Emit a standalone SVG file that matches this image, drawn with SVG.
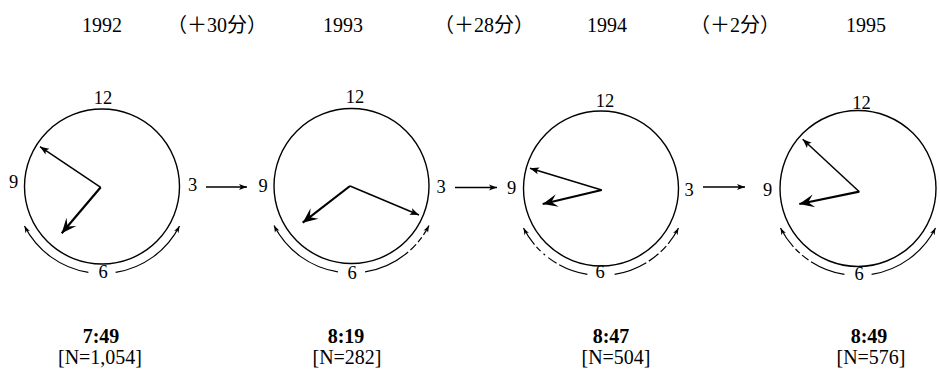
<svg xmlns="http://www.w3.org/2000/svg" width="940" height="382" viewBox="0 0 940 382">
  <style>
    .face { fill: none; stroke: #000; stroke-width: 1.4; }
    .minute { stroke: #000; stroke-width: 1.5; fill: none; marker-end: url(#tipSmall); }
    .hour { stroke: #000; stroke-width: 2.2; fill: none; marker-end: url(#tipLarge); }
    .sweep { fill: none; stroke: #000; stroke-width: 1.2; marker-end: url(#tipArc); }
    .link { stroke: #000; stroke-width: 1.4; fill: none; marker-end: url(#tipLink); }
    .num { font-family: "Liberation Serif", "Times New Roman", serif; font-size: 18.5px; text-anchor: middle; fill: #000; }
    .year { font-family: "Liberation Serif", "Times New Roman", serif; font-size: 20px; text-anchor: middle; fill: #000; }
    .gain { font-family: "Liberation Serif", "Noto Sans CJK SC", serif; font-size: 20px; text-anchor: middle; fill: #000; }
    .time { font-family: "Liberation Serif", "Times New Roman", serif; font-size: 20px; font-weight: bold; text-anchor: middle; fill: #000; }
    .count { font-family: "Liberation Serif", "Times New Roman", serif; font-size: 20px; text-anchor: middle; fill: #000; }
  </style>
  <defs>
    <marker id="tipSmall" viewBox="-10 -5 12 10" refX="0" refY="0" markerWidth="12" markerHeight="10" markerUnits="userSpaceOnUse" orient="auto">
      <path d="M0,0 L-9,-3.5 L-7,0 L-9,3.5 Z" fill="#000"/>
    </marker>
    <marker id="tipLarge" viewBox="-16 -8 18 16" refX="0" refY="0" markerWidth="18" markerHeight="16" markerUnits="userSpaceOnUse" orient="auto">
      <path d="M0,0 L-15,-6.5 L-9,0 L-15,6.5 Z" fill="#000"/>
    </marker>
    <marker id="tipArc" viewBox="-8 -4 10 8" refX="0" refY="0" markerWidth="10" markerHeight="8" markerUnits="userSpaceOnUse" orient="auto">
      <path d="M0,0 L-7,-2.5 L-5,0 L-7,2.5 Z" fill="#000"/>
    </marker>
    <marker id="tipLink" viewBox="-9 -4 11 8" refX="0" refY="0" markerWidth="11" markerHeight="8" markerUnits="userSpaceOnUse" orient="auto">
      <path d="M0,0 L-8,-3 L-6,0 L-8,3 Z" fill="#000"/>
    </marker>
  </defs>

  <!-- clock for 1992 -->
  <g id="clock-1992">
    <text class="year" x="102" y="32">1992</text>
    <g transform="translate(102,186.5)">
      <circle class="face" r="77.5"/>
      <text class="num" x="1" y="-82.5">12</text>
      <text class="num" x="-88.5" y="1">9</text>
      <text class="num" x="90.5" y="4">3</text>
      <text class="num" x="1" y="91">6</text>
      <line class="minute" x1="-1.3" y1="0.8" x2="-62" y2="-39.8"/>
      <line class="hour" x1="-1.3" y1="0.8" x2="-40.3" y2="46.8"/>
      <path class="sweep" d="M-13.6,85.9 A87,87 0 0 1 -77.5,39.5"/>
      <path class="sweep" d="M13.6,85.9 A87,87 0 0 0 77.5,39.5"/>
    </g>
    <text class="time" x="101" y="343">7:49</text>
    <text class="count" x="100" y="364">[N=1,054]</text>
  </g>

  <!-- clock for 1993 -->
  <g id="clock-1993">
    <text class="year" x="343" y="32">1993</text>
    <g transform="translate(351.5,186)">
      <circle class="face" r="77.5"/>
      <text class="num" x="3.5" y="-83">12</text>
      <text class="num" x="-88.5" y="6">9</text>
      <text class="num" x="89.5" y="7">3</text>
      <text class="num" x="0.5" y="93">6</text>
      <line class="minute" x1="-1.5" y1="0" x2="67.5" y2="29"/>
      <line class="hour" x1="-1.5" y1="0" x2="-48.8" y2="36.7"/>
      <path class="sweep" d="M-13.6,85.9 A87,87 0 0 1 -77.5,39.5"/>
      <path class="sweep" d="M13.6,85.9 A87,87 0 0 0 77.5,39.5" stroke-dasharray="48 3 8 3 6 3"/>
    </g>
    <text class="time" x="346" y="343">8:19</text>
    <text class="count" x="347" y="364">[N=282]</text>
  </g>

  <!-- clock for 1994 -->
  <g id="clock-1994">
    <text class="year" x="607" y="32">1994</text>
    <g transform="translate(601,188.5)">
      <circle class="face" r="77.5"/>
      <text class="num" x="4" y="-81.5">12</text>
      <text class="num" x="-89.5" y="5.5">9</text>
      <text class="num" x="88" y="7.5">3</text>
      <text class="num" x="-1" y="89.5">6</text>
      <line class="minute" x1="0.7" y1="1.5" x2="-71" y2="-20.2"/>
      <line class="hour" x1="0.7" y1="1.5" x2="-58.3" y2="15.5"/>
      <path class="sweep" d="M-13.6,85.9 A87,87 0 0 1 -77.5,39.5" stroke-dasharray="30 3 10 4 2 4 6 3"/>
      <path class="sweep" d="M13.6,85.9 A87,87 0 0 0 77.5,39.5" stroke-dasharray="34 3 12 3 8 3"/>
    </g>
    <text class="time" x="611" y="343">8:47</text>
    <text class="count" x="616" y="364">[N=504]</text>
  </g>

  <!-- clock for 1995 -->
  <g id="clock-1995">
    <text class="year" x="866" y="32">1995</text>
    <g transform="translate(858,188.5)">
      <circle class="face" r="78"/>
      <text class="num" x="3.5" y="-79.5">12</text>
      <text class="num" x="-90.5" y="7.5">9</text>
      <text class="num" x="1" y="91.5">6</text>
      <line class="minute" x1="1.3" y1="3.2" x2="-55.3" y2="-49.2"/>
      <line class="hour" x1="1.3" y1="3.2" x2="-58.7" y2="15.5"/>
      <path class="sweep" d="M-13.6,85.9 A87,87 0 0 1 -77.5,39.5" stroke-dasharray="36 3 8 3 6 3"/>
      <path class="sweep" d="M13.6,85.9 A87,87 0 0 0 77.5,39.5"/>
    </g>
    <text class="time" x="869" y="343">8:49</text>
    <text class="count" x="871" y="364">[N=576]</text>
  </g>

  <!-- transitions between years -->
  <g id="connectors">
    <line class="link" x1="206" y1="187" x2="247" y2="187"/>
    <line class="link" x1="455" y1="187.5" x2="497" y2="187.5"/>
    <line class="link" x1="703" y1="187" x2="745" y2="187"/>
    <text class="gain" x="217" y="32">（＋30分）</text>
    <text class="gain" x="484" y="32">（＋28分）</text>
    <text class="gain" x="735" y="32">（＋2分）</text>
  </g>
</svg>
